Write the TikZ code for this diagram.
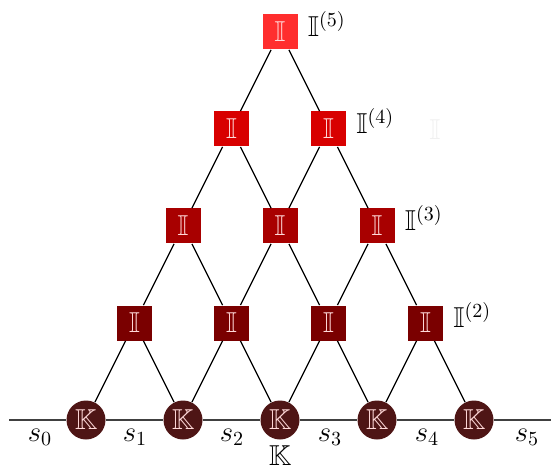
\documentclass[tikz,border=0pt]{standalone}
\usepackage{amsmath}
\usepackage{amssymb}
\usepackage{xcolor}
\usepackage{tikz}
\usetikzlibrary{positioning}
\definecolor{kcol}{HTML}{4E1515}
\definecolor{lvlii}{HTML}{7A0000}
\definecolor{lvliii}{HTML}{A80000}
\definecolor{lvliv}{HTML}{D80000}
\definecolor{lvlv}{HTML}{FF2E2E}
\tikzset{
  kcirc/.style = {circle, fill=kcol, minimum size=19.5pt, inner sep=0pt,
                  text=white!85!red, font=\Large},
  ibox/.style  = {rectangle, fill=#1, minimum size=17.5pt, inner sep=0pt,
                  text=white!85!red, font=\Large},
  lbl/.style   = {anchor=west, font=\Large},
  conn/.style  = {line width=0.6pt}
}

\begin{document}
\begin{tikzpicture}[x=0.5pt, y=-0.5pt]
  \useasboundingbox (0,0) rectangle (551,470);

  % bottom row
  \foreach \c in {0,...,4}
    \node[kcirc] (k\c) at ({86+97*\c},420) {$\mathbb{K}$};

  % pyramid of boxes
  \foreach \r/\col in {2/lvlii,3/lvliii,4/lvliv,5/lvlv} {
    \pgfmathtruncatemacro\cmax{5-\r}
    \foreach \c in {0,...,\cmax}
      \node[ibox=\col] (i\r\c) at ({86+97*(\c+(\r-1)/2)},{420-97*(\r-1)}) {$\mathbb{I}$};
  }

  % connectors
  \foreach \c in {0,...,3} {
    \pgfmathtruncatemacro\n{\c+1}
    \draw[conn] (i2\c) -- (k\c) (i2\c) -- (k\n);
  }
  \foreach \r in {3,4,5} {
    \pgfmathtruncatemacro\p{\r-1}
    \pgfmathtruncatemacro\cmax{5-\r}
    \foreach \c in {0,...,\cmax} {
      \pgfmathtruncatemacro\n{\c+1}
      \draw[conn] (i\r\c) -- (i\p\c) (i\r\c) -- (i\p\n);
    }
  }

  % base line
  \coordinate (lend) at (9,420);
  \coordinate (rend) at (551,420);
  \draw[conn, black!75] (lend) -- (k0) -- (k1) -- (k2) -- (k3) -- (k4) -- (rend);

  % segment labels
  \foreach \x/\i in {40/0,135/1,232/2,330/3,427/4,527/5}
    \node[font=\Large] (s\i) at (\x,437) {$s_{\i}$};
  \node[font=\Large] (kl) at (280,456) {$\mathbb{K}$};

  % level labels
  \node[lbl] (l2) at ([xshift=1.5pt, yshift=4pt]i23.east) {$\mathbb{I}^{(2)}$};
  \node[lbl] (l3) at ([xshift=1.5pt, yshift=4pt]i32.east) {$\mathbb{I}^{(3)}$};
  \node[lbl] (l4) at ([xshift=1.5pt, yshift=4pt]i41.east) {$\mathbb{I}^{(4)}$};
  \node[lbl] (l5) at ([xshift=1.5pt, yshift=4pt]i50.east) {$\mathbb{I}^{(5)}$};
  \node[font=\Large, text=black!6] (ghost) at (435,130) {$\mathbb{I}$};
\end{tikzpicture}
\end{document}
